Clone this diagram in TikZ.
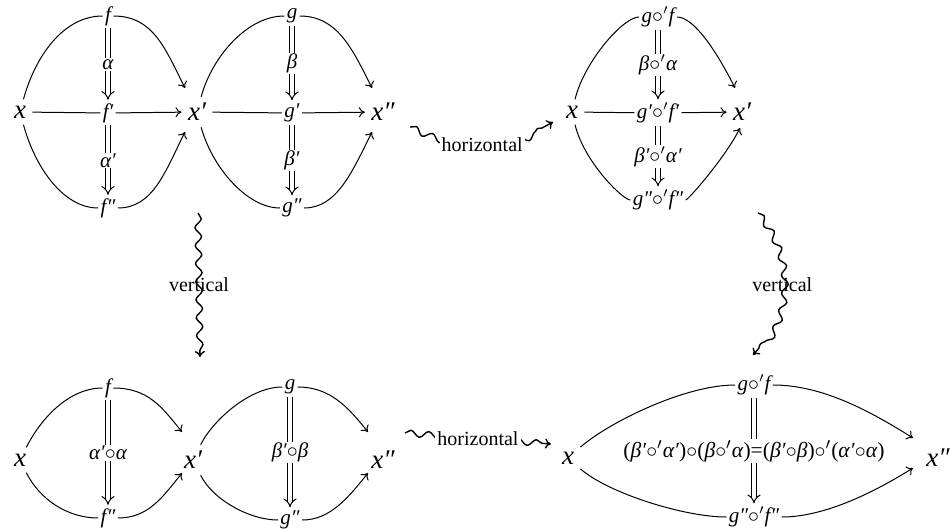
\documentclass[tikz,border=0pt]{standalone}
\usepackage{fontspec}
\setmainfont{Liberation Serif}
\usetikzlibrary{arrows.meta,decorations.pathmorphing,positioning}

\newcommand{\hcomp}{\ensuremath{\circ'}}
\newcommand{\vcomp}{\ensuremath{\circ}}

\tikzset{
  obj/.style={font=\fontsize{13.5}{13.5}\selectfont\itshape,inner sep=3pt},
  mor/.style={font=\fontsize{10.5}{10.5}\selectfont\itshape,inner sep=1pt},
  lab/.style={font=\fontsize{10.5}{10.5}\selectfont\itshape,fill=white,inner sep=0.5pt},
  biglab/.style={lab,font=\fontsize{10.8}{10.8}\selectfont},
  txt/.style={font=\fontsize{10}{10}\selectfont,inner sep=1pt},
  arr/.style={-{To[length=3pt,width=5pt]}},
  twocell/.style={double,double distance=1.8pt,-{Implies},shorten >=0.5pt},
  squig/.style={line width=0.7pt,decorate,decoration={snake,amplitude=1.6pt,segment length=9pt,post length=3pt},-{To[length=3pt,width=5pt]}}
}

\begin{document}
\begin{tikzpicture}[x=0.5pt,y=-0.5pt,line width=0.5pt]
\useasboundingbox (0,0) rectangle (950,531);

% top left: two 2-cells side by side
\node[obj] (x1) at (20,112) {x};
\node[obj] (x1p) at (197,112) {x′};
\node[obj] (x1pp) at (383,112) {x″};
\node[mor] (f1) at (108,16) {f};
\node[mor] (f1p) at (108,113) {f′};
\node[mor] (f1pp) at (108,208) {f″};
\node[mor] (g1) at (292,16) {g};
\node[mor] (g1p) at (292,113) {g′};
\node[mor] (g1pp) at (292,208) {g″};
\coordinate (t1) at (185,88);
\coordinate (t2) at (185,132);
\coordinate (t3) at (372,88);
\coordinate (t4) at (372,132);

\draw (x1) .. controls +(15,-55) and +(-45,0) .. (f1);
\draw[arr] (f1) .. controls +(45,0) and +(-20,-40) .. (t1);
\draw (x1) .. controls +(15,55) and +(-45,0) .. (f1pp);
\draw[arr] (f1pp) .. controls +(45,0) and +(-20,40) .. (t2);
\draw (x1) -- (f1p);
\draw[arr] (f1p) -- (x1p);
\draw[twocell] (f1) -- node[lab] {α} (f1p);
\draw[twocell] (f1p) -- node[lab] {α′} (f1pp);

\draw (x1p) .. controls +(15,-55) and +(-45,0) .. (g1);
\draw[arr] (g1) .. controls +(45,0) and +(-20,-40) .. (t3);
\draw (x1p) .. controls +(15,55) and +(-45,0) .. (g1pp);
\draw[arr] (g1pp) .. controls +(45,0) and +(-20,40) .. (t4);
\draw (x1p) -- (g1p);
\draw[arr] (g1p) -- (x1pp);
\draw[twocell] (g1) -- node[lab] {β} (g1p);
\draw[twocell] (g1p) -- node[lab] {β′} (g1pp);

% top right: horizontal composite
\node[obj] (x2) at (572,112) {x};
\node[obj] (x2p) at (742,112) {x′};
\node[mor] (gf2) at (658,17) {g\hcomp f};
\node[mor] (gf2p) at (658,113) {g′\hcomp f′};
\node[mor] (gf2pp) at (658,200) {g″\hcomp f″};
\coordinate (t5) at (735,88);
\coordinate (t6) at (740,128);

\draw (x2) .. controls +(12,-50) and +(-35,0) .. (gf2);
\draw[arr] (gf2) .. controls +(35,0) and +(-20,-40) .. (t5);
\draw (x2) .. controls +(12,50) and +(-35,0) .. (gf2pp);
\draw[arr] (gf2pp) .. controls +(30,0) and +(-15,30) .. (t6);
\draw (x2) -- (gf2p);
\draw[arr] (gf2p) -- (x2p);
\draw[twocell] (gf2) -- node[lab] {β\hcomp α} (gf2p);
\draw[twocell] (gf2p) -- node[lab] {β′\hcomp α′} (gf2pp);

% bottom left: vertical composites
\node[obj] (x3) at (20,460) {x};
\node[obj] (x3p) at (193,460) {x′};
\node[obj] (x3pp) at (383,460) {x″};
\node[mor] (f3) at (108,388) {f};
\node[mor] (f3pp) at (108,518) {f″};
\node[mor] (g3) at (290,387) {g};
\node[mor] (g3pp) at (290,520) {g″};
\coordinate (t7) at (182,432);
\coordinate (t8) at (182,473);
\coordinate (t9) at (368,432);
\coordinate (t10) at (368,473);

\draw (x3) .. controls +(20,-40) and +(-40,0) .. (f3);
\draw[arr] (f3) .. controls +(40,0) and +(-20,-25) .. (t7);
\draw (x3) .. controls +(20,40) and +(-40,0) .. (f3pp);
\draw[arr] (f3pp) .. controls +(40,0) and +(-20,25) .. (t8);
\draw[twocell] (f3) -- node[lab] {α′\vcomp α} (f3pp);

\draw (x3p) .. controls +(20,-40) and +(-40,0) .. (g3);
\draw[arr] (g3) .. controls +(40,0) and +(-20,-25) .. (t9);
\draw (x3p) .. controls +(20,40) and +(-40,0) .. (g3pp);
\draw[arr] (g3pp) .. controls +(40,0) and +(-20,25) .. (t10);
\draw[twocell] (g3) -- node[lab] {β′\vcomp β} (g3pp);

% bottom right: interchange
\node[obj] (x4) at (568,458) {x};
\node[obj] (x4pp) at (938,458) {x″};
\node[mor] (gf4) at (754,385) {g\hcomp f};
\node[mor] (gf4pp) at (754,517) {g″\hcomp f″};
\coordinate (t11) at (913,438);
\coordinate (t12) at (913,468);

\draw (x4) .. controls +(40,-35) and +(-70,0) .. (gf4);
\draw[arr] (gf4) .. controls +(70,0) and +(-40,-25) .. (t11);
\draw (x4) .. controls +(40,35) and +(-70,0) .. (gf4pp);
\draw[arr] (gf4pp) .. controls +(70,0) and +(-40,25) .. (t12);
\draw[twocell] (gf4) -- node[biglab] {(\textit{β′}\hcomp\textit{α′})\vcomp(\textit{β}\hcomp\textit{α})=(\textit{β′}\vcomp\textit{β})\hcomp(\textit{α′}\vcomp\textit{α})} (gf4pp);

% squiggly arrows between the diagrams
\coordinate (hA) at (410,127);
\coordinate (hB) at (553,122);
\draw[squig] (hA) to[bend right=28] node[txt,fill=white] {horizontal} (hB);
\coordinate (hC) at (405,433);
\coordinate (hD) at (551,444);
\draw[squig] (hC) -- node[txt,fill=white] {horizontal} (hD);
\coordinate (vA) at (198,213);
\coordinate (vB) at (200,357);
\draw[squig] (vA) -- node[txt] {vertical} (vB);
\coordinate (vC) at (758,213);
\coordinate (vD) at (753,355);
\draw[squig] (vC) to[bend left=40] node[txt] {vertical} (vD);

\end{tikzpicture}
\end{document}
